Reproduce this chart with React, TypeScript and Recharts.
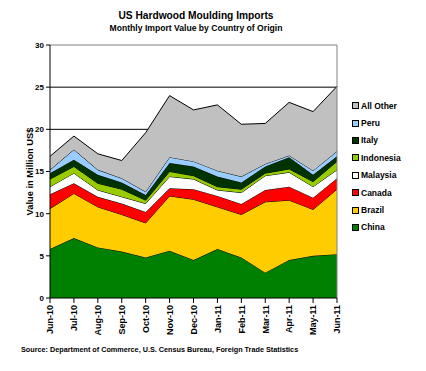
import React from 'react';
import { AreaChart, Area, XAxis, YAxis, CartesianGrid, ReferenceLine, Legend } from 'recharts';

const months = ['Jun-10', 'Jul-10', 'Aug-10', 'Sep-10', 'Oct-10', 'Nov-10', 'Dec-10', 'Jan-11', 'Feb-11', 'Mar-11', 'Apr-11', 'May-11', 'Jun-11'];
const china = [5.8, 7.1, 6.0, 5.5, 4.8, 5.6, 4.5, 5.8, 4.8, 3.0, 4.5, 5.0, 5.2];
const brazil = [4.8, 5.3, 4.8, 4.4, 4.1, 6.5, 7.2, 5.0, 5.1, 8.4, 7.1, 5.5, 7.7];
const canada = [1.7, 1.2, 1.2, 1.3, 1.3, 0.9, 1.2, 1.3, 1.25, 1.4, 1.6, 1.4, 1.3];
const malaysia = [0.9, 1.2, 0.8, 0.8, 1.0, 1.4, 1.2, 0.7, 1.35, 1.7, 1.7, 1.3, 1.0];
const indonesia = [0.9, 0.8, 0.8, 0.9, 0.4, 0.6, 0.4, 0.4, 0.4, 0.3, 0.4, 0.6, 1.0];
const italy = [0.7, 0.8, 1.0, 0.8, 0.6, 1.0, 1.1, 1.2, 0.8, 0.8, 1.4, 0.8, 0.6];
const peru = [0.4, 1.2, 0.6, 0.5, 0.4, 0.7, 0.6, 0.7, 0.7, 0.3, 0.2, 0.5, 0.6];
const allOther = [1.6, 1.6, 1.9, 2.1, 7.0, 7.3, 6.1, 7.8, 6.2, 4.8, 6.3, 7.0, 7.7];

const yTicks = [0, 5, 10, 15, 20, 25, 30];

const series = [
  { key: 'China', values: china, color: '#008000' },
  { key: 'Brazil', values: brazil, color: '#FFCC00' },
  { key: 'Canada', values: canada, color: '#FF0000' },
  { key: 'Malaysia', values: malaysia, color: '#FFFFFF' },
  { key: 'Indonesia', values: indonesia, color: '#99CC00' },
  { key: 'Italy', values: italy, color: '#003300' },
  { key: 'Peru', values: peru, color: '#99CCFF' },
  { key: 'All Other', values: allOther, color: '#C0C0C0' },
];

const data = months.map((m, i) => {
  const row: Record<string, any> = { month: m };
  series.forEach((s) => {
    row[s.key] = s.values[i];
  });
  return row;
});

const FONT = '"Liberation Sans", Arial, sans-serif';

const XTick = (props: any) => {
  const { x, y, payload } = props;
  return (
    <text
      x={x}
      y={y}
      transform={`rotate(-90, ${x}, ${y})`}
      textAnchor="end"
      dy={3.3}
      fontFamily={FONT}
      fontWeight="bold"
      fontSize={9}
      fill="#000"
    >
      {payload.value}
    </text>
  );
};

const YLabel = (props: any) => {
  const vb = props.viewBox || {};
  const cx = 33;
  const cy = vb.y + vb.height / 2;
  return (
    <text
      x={cx}
      y={cy}
      transform={`rotate(-90, ${cx}, ${cy})`}
      textAnchor="middle"
      fontFamily={FONT}
      fontWeight="bold"
      fontSize={9.3}
      fill="#000"
    >
      Value in Million US$
    </text>
  );
};

const LegendContent = () => {
  const items = [...series].reverse();
  return (
    <div style={{ fontFamily: FONT }}>
      {items.map((s) => (
        <div key={s.key} style={{ display: 'flex', alignItems: 'center', height: 17.4 }}>
          <span
            style={{
              display: 'inline-block',
              width: 5,
              height: 5,
              background: s.color,
              border: '1px solid #000',
              marginRight: 2,
            }}
          />
          <span style={{ fontSize: 8.5, fontWeight: 'bold', color: '#000', whiteSpace: 'nowrap' }}>{s.key}</span>
        </div>
      ))}
    </div>
  );
};

export default function App() {
  return (
    <div style={{ position: 'absolute', left: 0, top: 0, width: 426, height: 371, background: '#fff' }}>
      <div
        style={{
          position: 'absolute',
          left: 0,
          width: 392,
          top: 10.5,
          textAlign: 'center',
          fontFamily: FONT,
          fontWeight: 'bold',
          fontSize: 10.2,
          lineHeight: '10px',
          color: '#000',
        }}
      >
        US Hardwood Moulding Imports
      </div>
      <div
        style={{
          position: 'absolute',
          left: 0,
          width: 392,
          top: 23.7,
          textAlign: 'center',
          fontFamily: FONT,
          fontWeight: 'bold',
          fontSize: 8.6,
          lineHeight: '8.6px',
          color: '#000',
        }}
      >
        Monthly Import Value by Country of Origin
      </div>
      <div
        style={{
          position: 'absolute',
          left: 21,
          top: 346,
          fontFamily: FONT,
          fontWeight: 'bold',
          fontSize: 7.25,
          lineHeight: '7px',
          color: '#000',
          whiteSpace: 'nowrap',
        }}
      >
        Source: Department of Commerce, U.S. Census Bureau, Foreign Trade Statistics
      </div>
      <AreaChart
        width={426}
        height={371}
        data={data}
        margin={{ top: 45, right: 89, bottom: 0, left: 0 }}
        style={{ position: 'absolute', left: 0, top: 0 }}
      >
        <CartesianGrid horizontal vertical={false} stroke="#000" strokeWidth={1} horizontalValues={[5, 10, 15, 20, 25]} />
        <ReferenceLine y={30} stroke="#808080" strokeWidth={1} />
        <ReferenceLine x="Jun-11" stroke="#808080" strokeWidth={1} />
        <XAxis
          dataKey="month"
          height={73}
          interval={0}
          tick={<XTick />}
          tickSize={5}
          tickLine={{ stroke: '#000' }}
          axisLine={{ stroke: '#000' }}
        />
        <YAxis
          width={50}
          domain={[0, 30]}
          ticks={yTicks}
          interval={0}
          tickSize={4}
          tickMargin={2}
          tickLine={{ stroke: '#000' }}
          axisLine={{ stroke: '#000' }}
          tick={{ fontFamily: FONT, fontWeight: 'bold', fontSize: 8, fill: '#000' }}
          label={<YLabel />}
        />
        {series.map((s) => (
          <Area
            key={s.key}
            type="linear"
            dataKey={s.key}
            stackId="1"
            stroke="#000"
            strokeWidth={1}
            fill={s.color}
            fillOpacity={1}
            isAnimationActive={false}
            dot={false}
            activeDot={false}
          />
        ))}
        <Legend
          layout="vertical"
          align="center"
          verticalAlign="middle"
          content={<LegendContent />}
          wrapperStyle={{ left: 352, top: 97, width: 74 }}
        />
      </AreaChart>
    </div>
  );
}
